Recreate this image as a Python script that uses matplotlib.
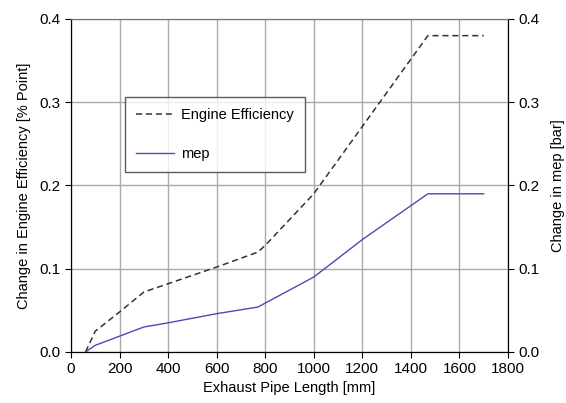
import matplotlib.pyplot as plt

plt.rcParams['font.family'] = ['Liberation Sans', 'DejaVu Sans']

# exhaust pipe length [mm]
length_eff = [60, 100, 200, 300, 400, 600, 770, 800, 1000, 1470, 1700]
efficiency = [0.0, 0.025, 0.048, 0.072, 0.082, 0.102, 0.120, 0.128, 0.19, 0.38, 0.38]

length_mep = [60, 100, 200, 300, 400, 600, 770, 1000, 1200, 1470, 1700]
mep = [0.0, 0.008, 0.019, 0.030, 0.035, 0.046, 0.054, 0.09, 0.135, 0.19, 0.19]

x_ticks = [0, 200, 400, 600, 800, 1000, 1200, 1400, 1600, 1800]
y_ticks = [0.0, 0.1, 0.2, 0.3, 0.4]

fig = plt.figure(figsize=(5.66, 4.03), dpi=100)
ax = fig.add_axes([0.1254, 0.1266, 0.7721, 0.8263])

ax.plot(length_eff, efficiency, color='#333333', linestyle=(0, (4, 2.5)), linewidth=1.1, label='Engine Efficiency')
ax.plot(length_mep, mep, color='#4a4ab8', linewidth=1.0, label='mep')

ax.set_xlim(0, 1800)
ax.set_ylim(0, 0.4)
ax.set_xticks(x_ticks)
ax.set_yticks(y_ticks)
ax.set_yticklabels(['%.1f' % v for v in y_ticks])
ax.grid(True, color='#aaaaaa', linewidth=1.0)
ax.set_axisbelow(True)
ax.tick_params(labelsize=11, direction='out', length=4)
ax.spines['top'].set_color('#777777')

ax.set_xlabel('Exhaust Pipe Length [mm]', fontsize=10.5, labelpad=3)
ax.set_ylabel('Change in Engine Efficiency [% Point]', fontsize=10.5, labelpad=6)

ax2 = ax.twinx()
ax2.set_ylim(0, 0.4)
ax2.set_yticks(y_ticks)
ax2.set_yticklabels(['%.1f' % v for v in y_ticks])
ax2.tick_params(labelsize=11, direction='out', length=4)
ax2.set_ylabel('Change in mep [bar]', fontsize=10.5, labelpad=8)
ax2.spines['top'].set_color('#777777')

leg = ax.legend(loc='upper left', bbox_to_anchor=(0.124, 0.766), borderaxespad=0, fontsize=10.5,
                frameon=True, fancybox=False, edgecolor='#333333', labelspacing=1.7, borderpad=0.75,
                handlelength=2.6, handletextpad=0.5)
leg.get_frame().set_linewidth(1.0)

fig.savefig('out.png', dpi=100)
